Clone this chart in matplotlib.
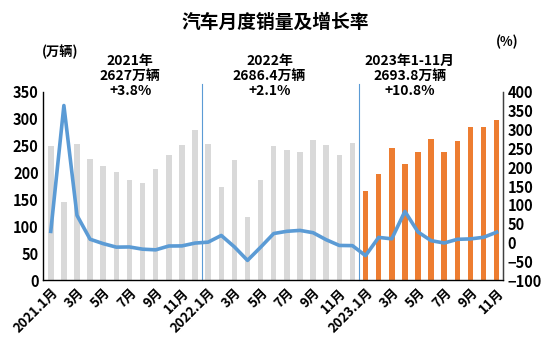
import matplotlib
matplotlib.use("Agg")
import matplotlib.pyplot as plt
import numpy as np

plt.rcParams['font.family'] = ['Noto Sans CJK SC', 'DejaVu Sans']
plt.rcParams['font.weight'] = 'bold'

# ─── Data ─────────────────────────────────────────────────────────────────────
sales_2021 = [250.3, 145.5, 252.6, 225.2, 212.8, 201.5, 186.4, 180.9, 207.1, 233.2, 252.2, 278.6]
sales_2022 = [253.1, 173.7, 223.4, 118.1, 186.2, 250.2, 242.0, 238.3, 261.0, 250.5, 232.9, 255.9]
sales_2023 = [164.9, 197.6, 245.1, 215.9, 238.2, 262.2, 238.7, 258.2, 285.8, 285.3, 297.0]
growth = [29.5, 364.0, 72.0, 8.6, -3.1, -12.4, -11.9, -17.8, -19.6, -9.4, -9.1, -1.6,
          0.9, 18.7, -11.7, -47.6, -12.6, 23.8, 29.7, 32.1, 26.0, 7.3, -7.9, -8.4,
          -35.0, 13.5, 9.7, 82.7, 27.9, 4.8, -1.4, 8.4, 9.5, 13.8, 27.4]
month_labels = (['2021.1月', '', '3月', '', '5月', '', '7月', '', '9月', '', '11月', '',
                 '2022.1月', '', '3月', '', '5月', '', '7月', '', '9月', '', '11月', '',
                 '2023.1月', '', '3月', '', '5月', '', '7月', '', '9月', '', '11月'])
year_notes = ['2021年\n2627万辆\n+3.8%', '2022年\n2686.4万辆\n+2.1%',
              '2023年1-11月\n2693.8万辆\n+10.8%']

GRAY = '#d9d9d9'
ORANGE = '#ed7d31'
BLUE = '#5b9bd5'

sales = sales_2021 + sales_2022 + sales_2023
colors = [GRAY] * (len(sales_2021) + len(sales_2022)) + [ORANGE] * len(sales_2023)
x = np.arange(len(sales))

# ─── Figure ───────────────────────────────────────────────────────────────────
fig = plt.figure(figsize=(5.5, 3.42), dpi=100)
ax = fig.add_axes([0.078, 0.181, 0.837, 0.55])
ax.bar(x, sales, width=0.42, color=colors, zorder=2)
ax.set_ylim(0, 350)
ax.set_xlim(-0.6, len(sales) - 0.5)
ax.set_yticks(np.arange(0, 351, 50))
ax.set_xticks(x)
ax.set_xticklabels(month_labels, rotation=45, ha='right', rotation_mode='anchor')
ax.tick_params(axis='y', length=0, labelsize=10.5, pad=3)
ax.tick_params(axis='x', length=0, labelsize=9.5, pad=4)
ax.spines['top'].set_visible(False)
for s in ['left', 'right', 'bottom']:
    ax.spines[s].set_color('#404040')
    ax.spines[s].set_linewidth(1.0)

ax2 = ax.twinx()
ax2.plot(x, growth, color=BLUE, lw=2.6, zorder=3)
ax2.set_ylim(-100, 400)
ax2.set_yticks(np.arange(-100, 401, 50))
ax2.tick_params(axis='y', length=0, labelsize=10.5, pad=3)
ax2.spines['top'].set_visible(False)
ax2.spines['right'].set_color('#404040')

# year separators
for xs in [11.5, 23.5]:
    ax.plot([xs, xs], [0, 365], color=BLUE, lw=0.8, clip_on=False, zorder=1)

# text
fig.text(0.5, 0.935, '汽车月度销量及增长率', ha='center', va='center', fontsize=13.5, fontweight='bold')
fig.text(0.11, 0.848, '(万辆)', ha='center', va='center', fontsize=9.5)
fig.text(0.922, 0.878, '(%)', ha='center', va='center', fontsize=9.5)
for xc, note in zip([0.237, 0.49, 0.745], year_notes):
    fig.text(xc, 0.778, note, ha='center', va='center', fontsize=10, linespacing=1.1)

plt.savefig("out.png", dpi=100)
